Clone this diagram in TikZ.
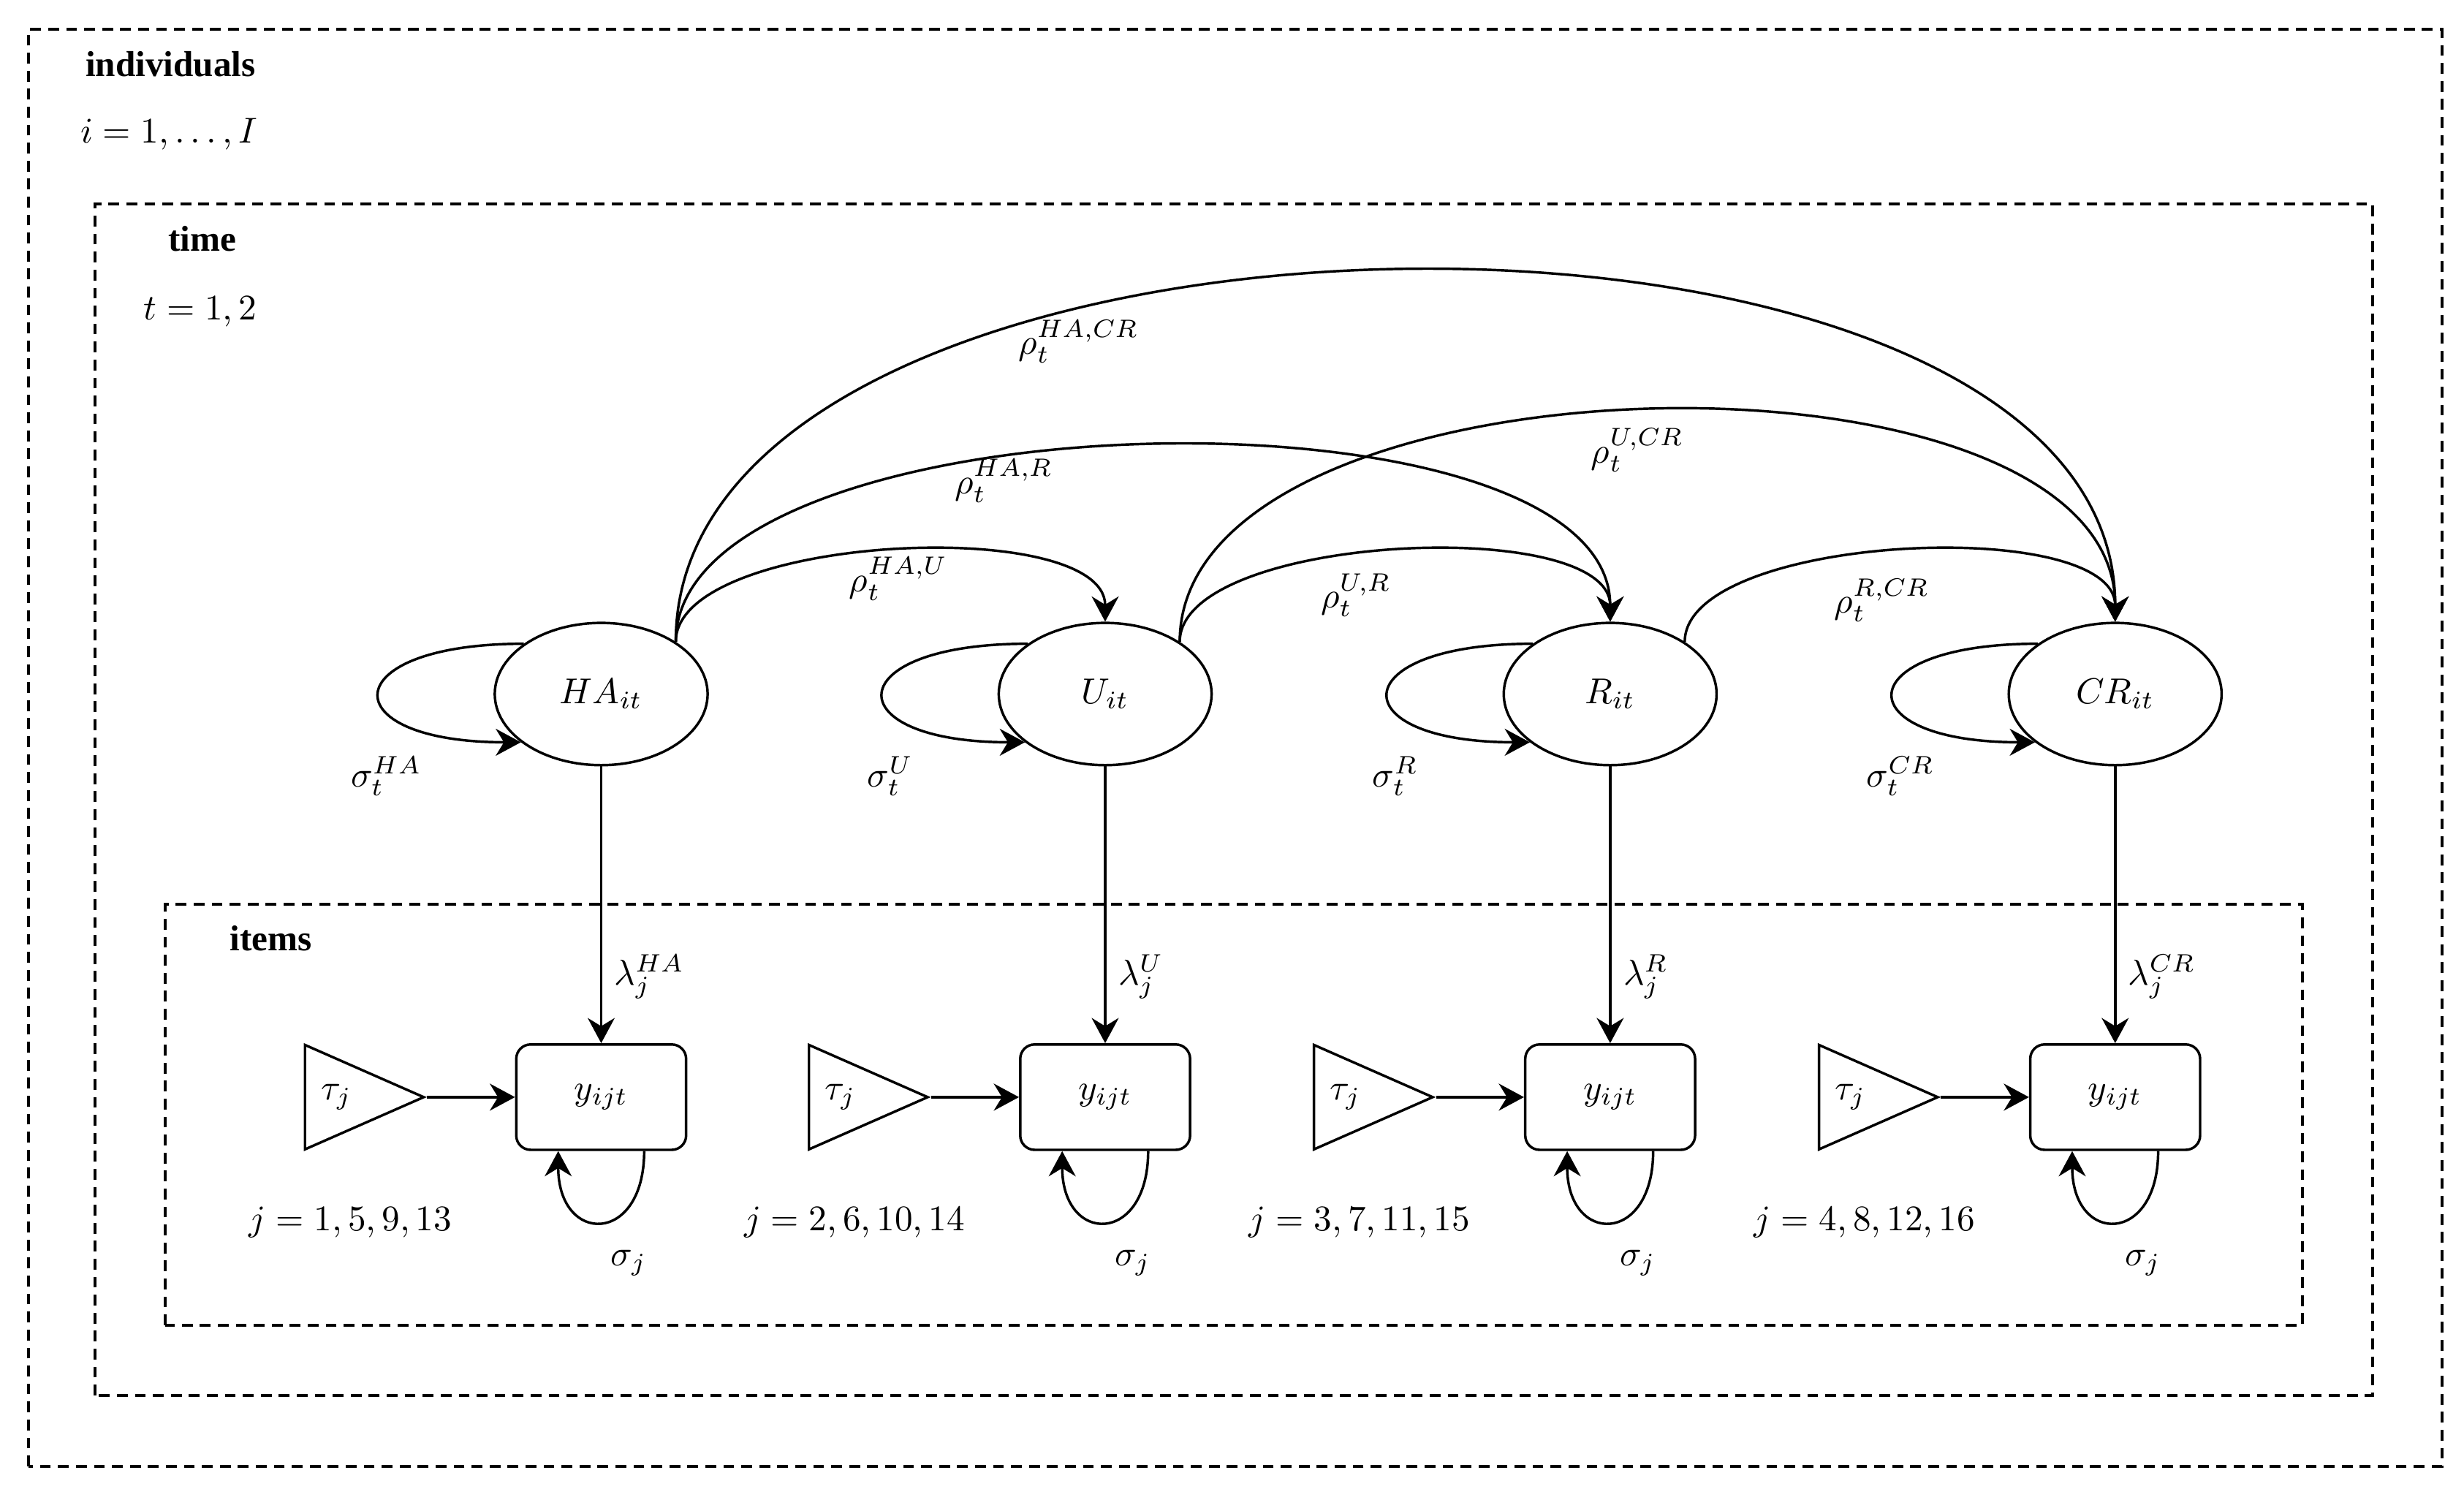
\documentclass[tikz,border=0pt]{standalone}
\usepackage{amsmath}
\usepackage{fontspec}
\setmainfont{Liberation Serif}
\usetikzlibrary{shapes.geometric,positioning,arrows.meta}

\tikzset{
  latent/.style={draw,ellipse,minimum width=2.08cm,minimum height=1.39cm,line width=0.7pt},
  obs/.style={draw,rectangle,rounded corners=4pt,minimum width=1.66cm,minimum height=1.03cm,line width=0.7pt},
  thresh/.style={draw,isosceles triangle,isosceles triangle stretches,minimum width=1.02cm,minimum height=1.16cm,inner sep=1pt,line width=0.7pt},
  plate/.style={line width=0.8pt,dash pattern=on 3pt off 2pt},
  conn/.style={line width=0.7pt,-{Stealth[length=7pt,width=7.5pt]}},
}

\begin{document}
\begin{tikzpicture}
            \useasboundingbox (0,0) rectangle (24.079,14.657);
            % plates
            \draw[plate] (0.279,0.329) rectangle (23.864,14.371);
            \draw[plate] (0.929,1.021) rectangle (23.186,12.664);
            \draw[plate] (1.614,1.707) rectangle (22.5,5.821);
            \node[anchor=base west,inner sep=0pt] (lblind) at (0.83,13.91) {\textbf{individuals}};
            \node[anchor=base west,inner sep=0pt] (idxind) at (0.78,13.26) {$i=1,\dots,I$};
            \node[anchor=base west,inner sep=0pt] (lbltime) at (1.64,12.2) {\textbf{time}};
            \node[anchor=base west,inner sep=0pt] (idxtime) at (1.40,11.53) {$t=1,2$};
            \node[anchor=base west,inner sep=0pt] (lblitems) at (2.24,5.37) {\textbf{items}};

            % latent factors
            \node[latent] (HA) at (5.875,7.875) {$HA_{it}$};
            \node[latent] (U) at (10.8,7.875) {$U_{it}$};
            \node[latent] (R) at (15.735,7.875) {$R_{it}$};
            \node[latent] (CR) at (20.67,7.875) {$CR_{it}$};

            % items
            \node[obs] (yHA) at (5.875,3.936) {$y_{ijt}$};
            \node[obs] (yU) at (10.8,3.936) {$y_{ijt}$};
            \node[obs] (yR) at (15.735,3.936) {$y_{ijt}$};
            \node[obs] (yCR) at (20.67,3.936) {$y_{ijt}$};
            \node[thresh,left=0.86cm of yHA] (tHA) {$\tau_j$};
            \node[thresh,left=0.86cm of yU] (tU) {$\tau_j$};
            \node[thresh,left=0.86cm of yR] (tR) {$\tau_j$};
            \node[thresh,left=0.86cm of yCR] (tCR) {$\tau_j$};
            \node (jHA) at ([shift={(-2.45,-1.22)}]yHA) {$j=1,5,9,13$};
            \node (jU) at ([shift={(-2.45,-1.22)}]yU) {$j=2,6,10,14$};
            \node (jR) at ([shift={(-2.45,-1.22)}]yR) {$j=3,7,11,15$};
            \node (jCR) at ([shift={(-2.45,-1.22)}]yCR) {$j=4,8,12,16$};

            % variances
            \draw[conn] (HA.147) .. controls +(-1.86,0) and +(-1.86,0) .. (HA.211);
            \draw[conn] (U.147) .. controls +(-1.86,0) and +(-1.86,0) .. (U.211);
            \draw[conn] (R.147) .. controls +(-1.86,0) and +(-1.86,0) .. (R.211);
            \draw[conn] (CR.147) .. controls +(-1.86,0) and +(-1.86,0) .. (CR.211);
            \node (sHA) at ([shift={(-2.1,-0.8)}]HA) {$\sigma_t^{HA}$};
            \node (sU) at ([shift={(-2.1,-0.8)}]U) {$\sigma_t^{U}$};
            \node (sR) at ([shift={(-2.1,-0.8)}]R) {$\sigma_t^{R}$};
            \node (sCR) at ([shift={(-2.1,-0.8)}]CR) {$\sigma_t^{CR}$};
            \draw[conn] ([xshift=0.42cm]yHA.south) .. controls +(0,-0.92) and +(0,-0.92) .. ([xshift=-0.42cm]yHA.south);
            \draw[conn] ([xshift=0.42cm]yU.south) .. controls +(0,-0.92) and +(0,-0.92) .. ([xshift=-0.42cm]yU.south);
            \draw[conn] ([xshift=0.42cm]yR.south) .. controls +(0,-0.92) and +(0,-0.92) .. ([xshift=-0.42cm]yR.south);
            \draw[conn] ([xshift=0.42cm]yCR.south) .. controls +(0,-0.92) and +(0,-0.92) .. ([xshift=-0.42cm]yCR.south);
            \node (sjHA) at ([shift={(0.27,-1.62)}]yHA) {$\sigma_j$};
            \node (sjU) at ([shift={(0.27,-1.62)}]yU) {$\sigma_j$};
            \node (sjR) at ([shift={(0.27,-1.62)}]yR) {$\sigma_j$};
            \node (sjCR) at ([shift={(0.27,-1.62)}]yCR) {$\sigma_j$};

            % loadings and thresholds
            \draw[conn] (HA) -- (yHA) node[right,pos=0.76] (lHA) {$\lambda_j^{HA}$};
            \draw[conn] (U) -- (yU) node[right,pos=0.76] (lU) {$\lambda_j^{U}$};
            \draw[conn] (R) -- (yR) node[right,pos=0.76] (lR) {$\lambda_j^{R}$};
            \draw[conn] (CR) -- (yCR) node[right,pos=0.76] (lCR) {$\lambda_j^{CR}$};
            \draw[conn] (tHA) -- (yHA);
            \draw[conn] (tU) -- (yU);
            \draw[conn] (tR) -- (yR);
            \draw[conn] (tCR) -- (yCR);

            % correlations
            \draw[conn] (HA.35) .. controls +(0,1.05) and +(0,1.05) .. (U.north);
            \draw[conn] (HA.35) .. controls +(0,2.42) and +(0,2.42) .. (R.north);
            \draw[conn] (HA.35) .. controls +(0,4.7) and +(0,4.7) .. (CR.north);
            \draw[conn] (U.35) .. controls +(0,1.05) and +(0,1.05) .. (R.north);
            \draw[conn] (U.35) .. controls +(0,2.88) and +(0,2.88) .. (CR.north);
            \draw[conn] (R.35) .. controls +(0,1.05) and +(0,1.05) .. (CR.north);
            \node (rHAU) at (8.78,9.0) {$\rho_t^{HA,U}$};
            \node (rHAR) at (9.81,9.96) {$\rho_t^{HA,R}$};
            \node (rHACR) at (10.54,11.32) {$\rho_t^{HA,CR}$};
            \node (rUR) at (13.25,8.84) {$\rho_t^{U,R}$};
            \node (rUCR) at (16.0,10.26) {$\rho_t^{U,CR}$};
            \node (rRCR) at (18.39,8.79) {$\rho_t^{R,CR}$};
        \end{tikzpicture}
\end{document}
